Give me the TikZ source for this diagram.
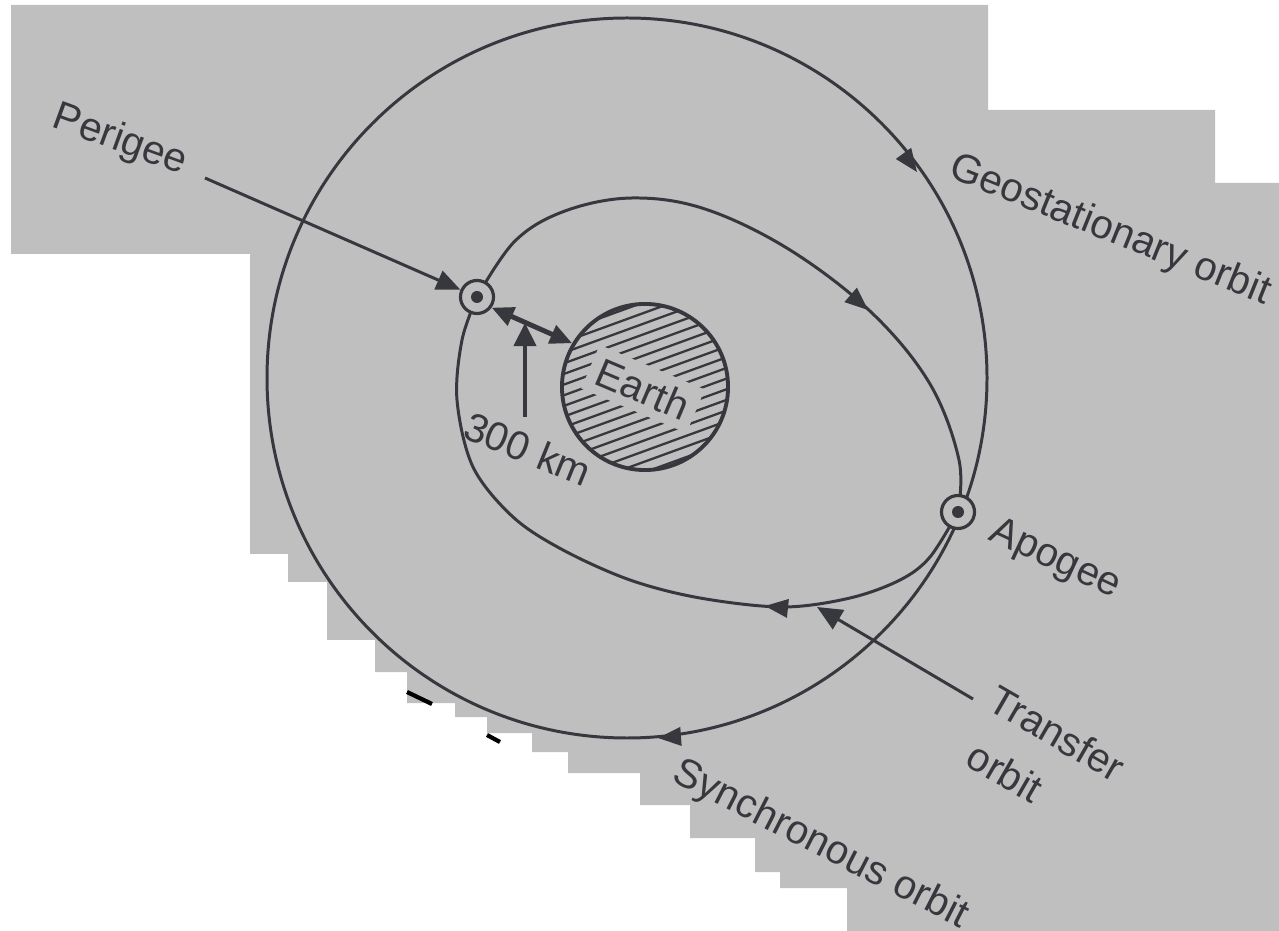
\documentclass[tikz,border=0pt]{standalone}
\usepackage{fontspec}
\setmainfont{Liberation Sans}
\usetikzlibrary{arrows.meta}
\definecolor{paper}{RGB}{191,191,192}
\definecolor{ink}{RGB}{55,55,62}
\newcommand{\orbitarrow}[3]{\fill[ink,shift={(#1,#2)},rotate=#3] (0,0) -- (-0.23cm,0.095cm) -- (-0.23cm,-0.095cm) -- cycle;}
\begin{document}
\begin{tikzpicture}[x=0.01cm,y=-0.01cm,
  orbit/.style={draw=ink, line width=0.85pt},
  pointer/.style={draw=ink, line width=0.85pt, -{Triangle[length=0.24cm,width=0.2cm]}},
  gap/.style={draw=ink, line width=1.4pt, {Triangle[length=0.22cm,width=0.19cm]}-{Triangle[length=0.22cm,width=0.19cm]}},
  sat/.style={circle, draw=ink, line width=0.9pt, fill=paper, minimum size=0.33cm, inner sep=0pt},
  lbl/.style={text=ink, font=\fontsize{11.5}{13.5}\selectfont, inner sep=0pt}]
\useasboundingbox (0,0) rectangle (1279,931);
% photographed page
\fill[paper] (11,5) -- (988,5) -- (988,110) -- (1215,110) -- (1215,183) -- (1279,183)
  -- (1279,931) -- (847,931) -- (847,888) -- (780,888) -- (780,872) -- (755,872)
  -- (755,838) -- (690,838) -- (690,805) -- (640,805) -- (640,773) -- (568,773)
  -- (568,752) -- (532,752) -- (532,733) -- (487,733) -- (487,717) -- (455,717)
  -- (455,703) -- (407,703) -- (407,672) -- (375,672) -- (375,640) -- (327,640)
  -- (327,582) -- (288,582) -- (288,554) -- (250,554) -- (250,254) -- (11,254) -- cycle;
\draw[black, line width=1.2pt] (407,692) -- (432,704);
\draw[black, line width=1.2pt] (487,735) -- (500,742);

% geostationary / synchronous orbit
\draw[orbit] (627,378) circle (360);
\orbitarrow{917}{172}{-54}
\orbitarrow{658}{738}{184}

% transfer orbit (upper and lower halves meet at perigee and apogee)
\draw[orbit] plot[smooth, tension=0.6] coordinates {
  (477,297) (515,241) (565,211) (632,198) (705,209) (790,250)
  (872,313) (930,384) (959,460) (958,512)};
\draw[orbit] plot[smooth, tension=0.55] coordinates {
  (958,512) (930,557) (900,580) (850,598) (783,607) (700,598) (630,580)
  (563,550) (513,517) (473,467) (457,400) (462,340) (477,297)};
\orbitarrow{868}{310}{-41}
\orbitarrow{765}{606}{174}

% Earth
\begin{scope}
  \clip (645,387) circle (82);
  \foreach \k in {-9,...,9}
    \draw[ink, line width=0.65pt, rotate around={20:(645,387)}] (530,387+\k*10) -- (760,387+\k*10);
\end{scope}
\node[circle, draw=ink, line width=1.1pt, minimum size=1.66cm, inner sep=0pt] (earth) at (645,387) {};
\node[lbl, fill=paper, inner sep=2.5pt, rotate=-23] (earthlbl) at (643,389) {Earth};

% satellites
\node[sat] (perigee) at (477,297) {};
\fill[ink] (perigee.center) circle (6);
\node[sat] (apogee) at (958,512) {};
\fill[ink] (apogee.center) circle (6);

% 300 km
\draw[gap] (perigee.-36) -- (earth.149);
\coordinate (kmfoot) at (525,417);
\coordinate (kmtip) at (525,323);
\draw[draw=ink, line width=1.2pt, -{Triangle[length=0.23cm,width=0.22cm]}] (kmfoot) -- (kmtip);
\node[lbl, rotate=-22] (km) at (528,449) {300 km};

% labels
\node[lbl, rotate=-20] (perlbl) at (120,141) {Perigee};
\coordinate (perstart) at (205,178);
\draw[pointer] (perstart) -- (perigee);

\node[lbl, rotate=-22] (geolbl) at (1110,231) {Geostationary orbit};
\node[lbl, rotate=-25] (apolbl) at (1055,560) {Apogee};
\node[lbl, rotate=-30] (trlbl) at (1057,733) {Transfer};
\node[lbl, rotate=-30] (orlbl) at (1005,772) {orbit};
\coordinate (trstart) at (973,699);
\coordinate (trtip) at (817,607);
\draw[pointer, -{Triangle[length=0.25cm,width=0.22cm]}] (trstart) -- (trtip);
\node[lbl, rotate=-27] (synlbl) at (820,845) {Synchronous orbit};
\end{tikzpicture}
\end{document}
